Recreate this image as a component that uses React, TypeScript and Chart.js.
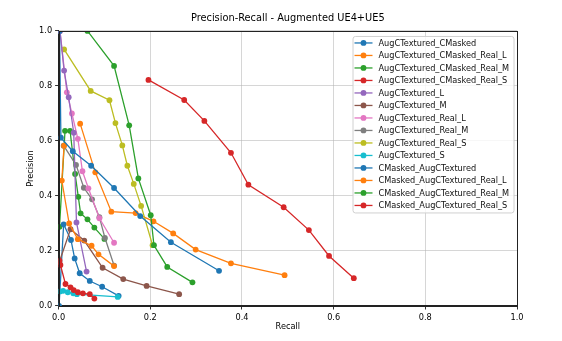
import React, { useEffect, useRef } from "react";
import { Chart, registerables } from "chart.js";

Chart.register(...registerables);

const FONT = "'DejaVu Sans', 'Liberation Sans', sans-serif";

const chartTitle = "Precision-Recall - Augmented UE4+UE5";
const xAxisLabel = "Recall";
const yAxisLabel = "Precision";
const axisTicks = [0, 0.2, 0.4, 0.6, 0.8, 1.0];

const seriesNames = [
  "AugCTextured_CMasked",
  "AugCTextured_CMasked_Real_L",
  "AugCTextured_CMasked_Real_M",
  "AugCTextured_CMasked_Real_S",
  "AugCTextured_L",
  "AugCTextured_M",
  "AugCTextured_Real_L",
  "AugCTextured_Real_M",
  "AugCTextured_Real_S",
  "AugCTextured_S",
  "CMasked_AugCTextured",
  "CMasked_AugCTextured_Real_L",
  "CMasked_AugCTextured_Real_M",
  "CMasked_AugCTextured_Real_S",
];

const seriesColors = [
  "#1f77b4", "#ff7f0e", "#2ca02c", "#d62728", "#9467bd",
  "#8c564b", "#e377c2", "#7f7f7f", "#bcbd22", "#17becf",
  "#1f77b4", "#ff7f0e", "#2ca02c", "#d62728",
];

// recall / precision per series
const augCMaskedRecall = [0.002, 0.005, 0.031, 0.071, 0.121, 0.178, 0.245, 0.35];
const augCMaskedPrecision = [1.0, 0.612, 0.563, 0.51, 0.429, 0.327, 0.232, 0.128];

const augCMaskedRealLRecall = [0.012, 0.007, 0.023, 0.042, 0.072, 0.087, 0.121];
const augCMaskedRealLPrecision = [0.583, 0.456, 0.3, 0.243, 0.219, 0.188, 0.145];

const augCMaskedRealMRecall = [0.063, 0.121, 0.154, 0.174, 0.201, 0.208, 0.237, 0.292];
const augCMaskedRealMPrecision = [1.0, 0.873, 0.657, 0.464, 0.33, 0.221, 0.142, 0.086];

const augCMaskedRealSRecall = [0.002, 0.004, 0.015, 0.026, 0.033, 0.042, 0.053, 0.068, 0.078];
const augCMaskedRealSPrecision = [0.165, 0.149, 0.08, 0.068, 0.058, 0.05, 0.046, 0.043, 0.027];

const augLRecall = [0.003, 0.012, 0.022, 0.033, 0.039, 0.061];
const augLPrecision = [1.0, 0.856, 0.759, 0.63, 0.304, 0.125];

const augMRecall = [0.0015, 0.026, 0.056, 0.096, 0.141, 0.192, 0.263];
const augMPrecision = [0.16, 0.279, 0.238, 0.139, 0.098, 0.073, 0.043];

const augRealLRecall = [0.003, 0.018, 0.029, 0.042, 0.052, 0.065, 0.089, 0.121];
const augRealLPrecision = [1.0, 0.777, 0.7, 0.608, 0.49, 0.428, 0.319, 0.23];

const augRealMRecall = [0.011, 0.038, 0.055, 0.073, 0.089, 0.101, 0.121];
const augRealMPrecision = [0.583, 0.513, 0.43, 0.388, 0.323, 0.248, 0.147];

const augRealSRecall = [0.012, 0.07, 0.111, 0.124, 0.139, 0.15, 0.164, 0.18, 0.205];
const augRealSPrecision = [0.933, 0.782, 0.748, 0.665, 0.584, 0.51, 0.444, 0.364, 0.221];

const augSRecall = [0.003, 0.01, 0.02, 0.032, 0.04, 0.129];
const augSPrecision = [0.053, 0.055, 0.05, 0.046, 0.043, 0.033];

const cmAugRecall = [0.001, 0.011, 0.027, 0.035, 0.046, 0.068, 0.095, 0.131];
const cmAugPrecision = [0.0, 0.297, 0.24, 0.173, 0.119, 0.091, 0.07, 0.037];

const cmAugRealLRecall = [0.047, 0.08, 0.115, 0.168, 0.207, 0.25, 0.299, 0.376, 0.493];
const cmAugRealLPrecision = [0.663, 0.486, 0.343, 0.338, 0.308, 0.264, 0.205, 0.155, 0.112];

const cmAugRealMRecall = [0.002, 0.014, 0.025, 0.036, 0.043, 0.048, 0.063, 0.078, 0.1];
const cmAugRealMPrecision = [0.288, 0.637, 0.637, 0.48, 0.397, 0.337, 0.315, 0.285, 0.244];

const cmAugRealSRecall = [0.196, 0.274, 0.318, 0.376, 0.414, 0.491, 0.546, 0.59, 0.644];
const cmAugRealSPrecision = [0.822, 0.749, 0.673, 0.557, 0.441, 0.359, 0.276, 0.182, 0.101];

const recallLists = [
  augCMaskedRecall, augCMaskedRealLRecall, augCMaskedRealMRecall, augCMaskedRealSRecall,
  augLRecall, augMRecall, augRealLRecall, augRealMRecall, augRealSRecall, augSRecall,
  cmAugRecall, cmAugRealLRecall, cmAugRealMRecall, cmAugRealSRecall,
];
const precisionLists = [
  augCMaskedPrecision, augCMaskedRealLPrecision, augCMaskedRealMPrecision, augCMaskedRealSPrecision,
  augLPrecision, augMPrecision, augRealLPrecision, augRealMPrecision, augRealSPrecision, augSPrecision,
  cmAugPrecision, cmAugRealLPrecision, cmAugRealMPrecision, cmAugRealSPrecision,
];

const framePlugin = {
  id: "mplFrame",
  afterDatasetsDraw(chart: any) {
    const { ctx, chartArea } = chart;
    ctx.save();
    ctx.strokeStyle = "#222";
    ctx.lineWidth = 1;
    ctx.strokeRect(
      Math.round(chartArea.left) + 0.5,
      Math.round(chartArea.top) + 0.5,
      Math.round(chartArea.right) - Math.round(chartArea.left),
      Math.round(chartArea.bottom) - Math.round(chartArea.top)
    );
    ctx.restore();
  },
};

const legendPlugin = {
  id: "mplLegend",
  afterDatasetsDraw(chart: any) {
    const { ctx, chartArea } = chart;
    const ds = chart.data.datasets;
    const rowH = 12.5;
    const w = 161;
    const h = (ds.length - 1) * rowH + 14;
    const left = chartArea.right - 3.5 - w;
    const top = chartArea.top + 5;
    ctx.save();
    ctx.beginPath();
    (ctx as any).roundRect(left + 0.5, top + 0.5, w, h, 2.5);
    ctx.fillStyle = "rgba(255,255,255,0.8)";
    ctx.fill();
    ctx.strokeStyle = "#d0d0d0";
    ctx.lineWidth = 1;
    ctx.stroke();
    ctx.font = `8.2px ${FONT}`;
    ctx.textBaseline = "middle";
    ctx.textAlign = "left";
    ds.forEach((d: any, i: number) => {
      const y = top + 7 + i * rowH;
      ctx.strokeStyle = d.borderColor;
      ctx.lineWidth = 1.3;
      ctx.beginPath();
      ctx.moveTo(left + 2, y);
      ctx.lineTo(left + 20, y);
      ctx.stroke();
      ctx.fillStyle = d.borderColor;
      ctx.beginPath();
      ctx.arc(left + 11, y, 2.9, 0, Math.PI * 2);
      ctx.fill();
      ctx.fillStyle = "#111";
      ctx.fillText(d.label, left + 26, y + 0.5);
    });
    ctx.restore();
  },
};

export default function App() {
  const canvasRef = useRef<HTMLCanvasElement | null>(null);

  useEffect(() => {
    if (!canvasRef.current) return;
    const datasets = seriesNames.map((name, i) => ({
      label: name,
      data: recallLists[i].map((r, j) => ({ x: r, y: precisionLists[i][j] })),
      borderColor: seriesColors[i],
      backgroundColor: seriesColors[i],
      showLine: true,
      borderWidth: 1.3,
      pointRadius: 2.9,
      pointBorderWidth: 0,
      pointHoverRadius: 2.9,
    }));

    const tickFont = { family: FONT, size: 8.2 };
    const chart = new Chart(canvasRef.current, {
      type: "scatter",
      data: { datasets },
      options: {
        animation: false,
        responsive: true,
        maintainAspectRatio: false,
        layout: { padding: { top: 0, right: 45, left: 0, bottom: 0 } },
        plugins: {
          legend: { display: false },
          tooltip: { enabled: false },
          title: {
            display: true,
            text: chartTitle,
            fullSize: false,
            color: "#000",
            font: { family: FONT, size: 9.8, weight: "normal" },
            padding: { top: 13, bottom: 6.2 },
          },
        },
        scales: {
          x: {
            type: "linear",
            min: 0,
            max: 1,
            afterBuildTicks: (scale: any) => {
              scale.ticks = axisTicks.map((v) => ({ value: v }));
            },
            afterFit: (scale: any) => {
              scale.height = 35;
            },
            ticks: {
              color: "#000",
              font: tickFont,
              padding: 3,
              maxRotation: 0,
              callback: (v: any) => Number(v).toFixed(1),
            },
            grid: {
              color: "rgba(176,176,176,0.65)",
              lineWidth: 0.8,
              tickLength: 3.5,
              tickColor: "#000",
            },
            border: { display: true, color: "#222", width: 1 },
            title: {
              display: true,
              text: xAxisLabel,
              color: "#000",
              font: { family: FONT, size: 8.2 },
              padding: { top: 0, bottom: 9 },
            },
          },
          y: {
            type: "linear",
            min: 0,
            max: 1,
            afterBuildTicks: (scale: any) => {
              scale.ticks = axisTicks.map((v) => ({ value: v }));
            },
            afterFit: (scale: any) => {
              scale.width = 58.6;
            },
            ticks: {
              color: "#000",
              font: tickFont,
              padding: 3,
              callback: (v: any) => Number(v).toFixed(1),
            },
            grid: {
              color: "rgba(176,176,176,0.65)",
              lineWidth: 0.8,
              tickLength: 3.5,
              tickColor: "#000",
            },
            border: { display: true, color: "#222", width: 1 },
            title: {
              display: true,
              text: yAxisLabel,
              color: "#000",
              font: { family: FONT, size: 8.2 },
              padding: { top: 25.5, bottom: 0 },
            },
          },
        },
      },
      plugins: [framePlugin, legendPlugin],
    });
    return () => chart.destroy();
  }, []);

  return (
    <div style={{ position: "fixed", left: 0, top: 0, width: 562, height: 341, background: "#fff" }}>
      <canvas ref={canvasRef} />
    </div>
  );
}
